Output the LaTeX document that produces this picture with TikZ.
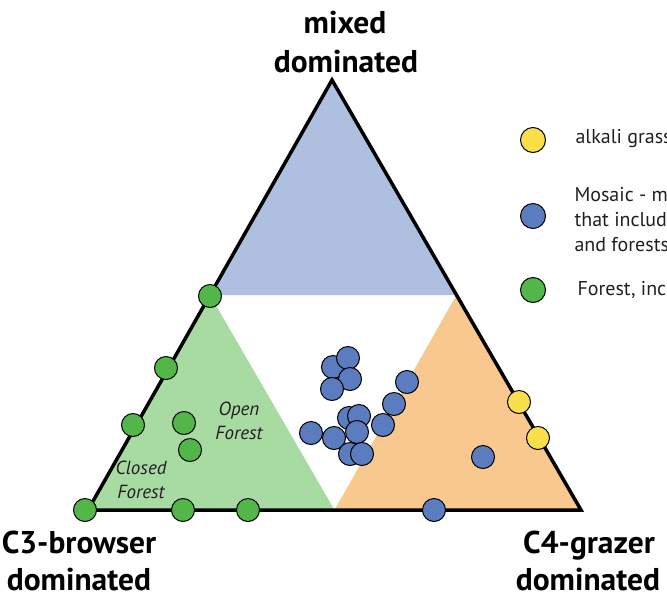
\documentclass[tikz,border=0pt]{standalone}
\usepackage{fontspec}
\setmainfont{PT Sans}
\definecolor{mixblue}{HTML}{AEBFE0}
\definecolor{cthreegreen}{HTML}{A8DBA2}
\definecolor{cfourorange}{HTML}{F9C88F}
\definecolor{dotgreen}{HTML}{52B748}
\definecolor{dotblue}{HTML}{5B7DC0}
\definecolor{dotyellow}{HTML}{F9E04B}
\definecolor{inkgray}{HTML}{231F20}
\begin{document}
\begin{tikzpicture}[x=1pt,y=-1pt,
    site/.style={circle,draw=black,line width=1pt,minimum size=23pt,inner sep=0pt},
    corner/.style={font=\fontsize{31.5}{36}\selectfont\bfseries,anchor=base,inner sep=1pt},
    zone/.style={font=\fontsize{19}{24}\selectfont\itshape,text=inkgray,align=center},
    legend/.style={font=\fontsize{20}{25}\selectfont,text=inkgray,align=left,anchor=west}]
\clip (0,0) rectangle (667,595);
% corners of the ternary triangle
\coordinate (top) at (332,80);
\coordinate (left) at (88,510);
\coordinate (right) at (581,510);
\coordinate (ml) at (210,295);
\coordinate (mr) at (456.5,295);
\coordinate (mb) at (334.5,510);
\fill[mixblue] (top) -- (ml) -- (mr) -- cycle;
\fill[cthreegreen] (ml) -- (left) -- (mb) -- cycle;
\fill[cfourorange] (mr) -- (mb) -- (right) -- cycle;
\draw[line width=3.5pt] (top) -- (left) -- (right) -- cycle;
% zone labels
\node[zone] (open) at (239,421) {Open\\Forest};
\node[zone] (closed) at (141,480) {Closed\\Forest};
% sites
\foreach \x/\y [count=\i] in {210/296,166/368,133/425,184/423,190/450,85/510,183/510,248/510}
    \node[site,fill=dotgreen] (g\i) at (\x,\y) {};
\foreach \x/\y [count=\i] in {333/367,348/358,350/379,332/389,407/382,394/404,349/418,359/416,
    357/432,383/425,311/433,334/438,350/454,362/454,483/457,434/510}
    \node[site,fill=dotblue] (b\i) at (\x,\y) {};
\foreach \x/\y [count=\i] in {519/402,538/438}
    \node[site,fill=dotyellow] (y\i) at (\x,\y) {};
% corner labels
\node[corner] (mixed) at (345,33) {mixed};
\node[corner] (mixeddom) at (346,72) {dominated};
\node[corner] (cthree) at (79,553) {C3-browser};
\node[corner] (cthreedom) at (79,590) {dominated};
\node[corner] (cfour) at (589,553) {C4-grazer};
\node[corner] (cfourdom) at (588,590) {dominated};
% legend
\node[site,fill=dotyellow,minimum size=25pt] (ly) at (533,140) {};
\node[legend] (lyt) at (572,139) {alkali grass};
\node[site,fill=dotblue,minimum size=25pt] (lb) at (533,216) {};
\node[legend] (lbt) at (571,220) {Mosaic - m\\that includ\\and forests};
\node[site,fill=dotgreen,minimum size=25pt] (lg) at (533,290) {};
\node[legend] (lgt) at (574,290) {Forest, inc};
\end{tikzpicture}
\end{document}
